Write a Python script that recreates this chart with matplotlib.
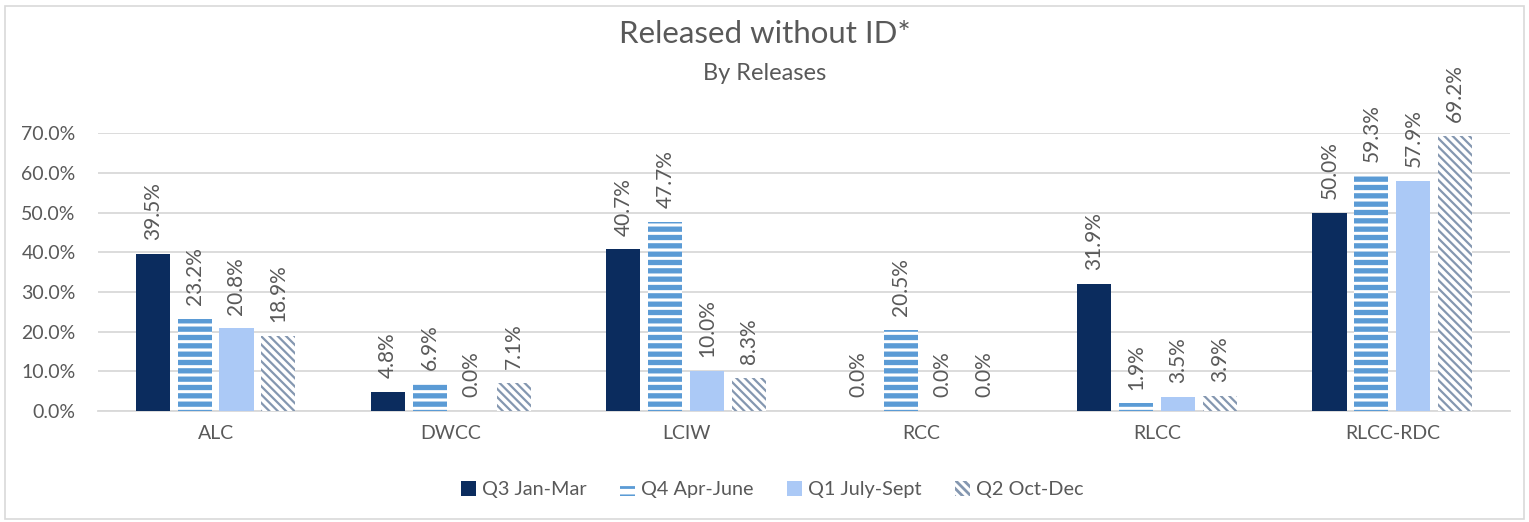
import matplotlib
matplotlib.use("Agg")
import matplotlib.pyplot as plt
from matplotlib.patches import Rectangle
import numpy as np

categories = ["ALC", "DWCC", "LCIW", "RCC", "RLCC", "RLCC-RDC"]
series_names = ["Q3 Jan-Mar", "Q4 Apr-June", "Q1 July-Sept", "Q2 Oct-Dec"]
q3_jan_mar = [39.5, 4.8, 40.7, 0.0, 31.9, 50.0]
q4_apr_june = [23.2, 6.9, 47.7, 20.5, 1.9, 59.3]
q1_july_sept = [20.8, 0.0, 10.0, 0.0, 3.5, 57.9]
q2_oct_dec = [18.9, 7.1, 8.3, 0.0, 3.9, 69.2]
yticks = [0, 10, 20, 30, 40, 50, 60, 70]

plt.rcParams['font.family'] = ['Lato', 'DejaVu Sans']
TXT = "#595959"

fig = plt.figure(figsize=(15.29, 5.22), dpi=100)
ax = fig.add_axes([0.064, 0.2126, 0.9236, 0.5324])

x = np.arange(len(categories))
w = 0.145
offs = [-0.267, -0.089, 0.089, 0.267]
series = [q3_jan_mar, q4_apr_june, q1_july_sept, q2_oct_dec]
styles = [
    dict(face="#0B2C5E", hatch=None, hcol=None, hlw=1.0),
    dict(face="white", hatch="--", hcol="#5B9BD5", hlw=3.8),
    dict(face="#ABC9F6", hatch=None, hcol=None, hlw=1.0),
    dict(face="white", hatch="\\\\\\\\", hcol="#8497B0", hlw=1.6),
]

handles = []
for vals, off, st, name in zip(series, offs, styles, series_names):
    with plt.rc_context({'hatch.linewidth': st['hlw']}):
        if st['hatch']:
            bars = ax.bar(x + off, vals, width=w, facecolor=st['face'],
                          edgecolor=st['hcol'], hatch=st['hatch'], linewidth=0,
                          label=name, zorder=3)
        else:
            bars = ax.bar(x + off, vals, width=w, color=st['face'],
                          linewidth=0, label=name, zorder=3)
        for b in bars:
            if hasattr(b, 'set_hatch_linewidth'):
                b.set_hatch_linewidth(st['hlw'])
    handles.append(bars)
    for xi, v in zip(x + off, vals):
        ax.annotate(f"{v:.1f}%", (xi, v), xytext=(0, 10), textcoords="offset points",
                    rotation=90, ha="center", va="bottom", fontsize=15, color=TXT)

ax.set_ylim(0, 70)
ax.set_xlim(-0.5, len(categories) - 0.5)
ax.set_yticks(yticks)
ax.set_yticklabels([f"{t:.1f}%" for t in yticks])
ax.set_xticks(x)
ax.set_xticklabels(categories)
ax.tick_params(axis='y', length=0, pad=16, labelsize=14, labelcolor=TXT)
ax.tick_params(axis='x', length=0, pad=10, labelsize=14, labelcolor=TXT)
ax.grid(axis='y', color="#D9D9D9", linewidth=1.3, zorder=0)
for s in ["top", "right", "left"]:
    ax.spines[s].set_visible(False)
ax.spines["bottom"].set_color("#D9D9D9")
ax.spines["bottom"].set_linewidth(1.3)
ax.set_axisbelow(True)

fig.text(0.5, 0.935, "Released without ID*", ha="center", va="center",
         fontsize=22.5, color=TXT)
fig.text(0.5, 0.859, "By Releases", ha="center", va="center",
         fontsize=17, color=TXT)

with plt.rc_context({'hatch.linewidth': 2.0}):
    leg = fig.legend(handles=handles, labels=series_names, loc="center",
                     bbox_to_anchor=(0.505, 0.062), ncol=4, frameon=False,
                     fontsize=14.3, handlelength=0.75, handleheight=0.75,
                     handletextpad=0.3, columnspacing=1.7, labelcolor=TXT)

fig.patches.append(Rectangle((0.003, 0.006), 0.994, 0.982, transform=fig.transFigure,
                             fill=False, edgecolor="#D9D9D9", linewidth=1.2))

fig.savefig("out.png", dpi=100)
